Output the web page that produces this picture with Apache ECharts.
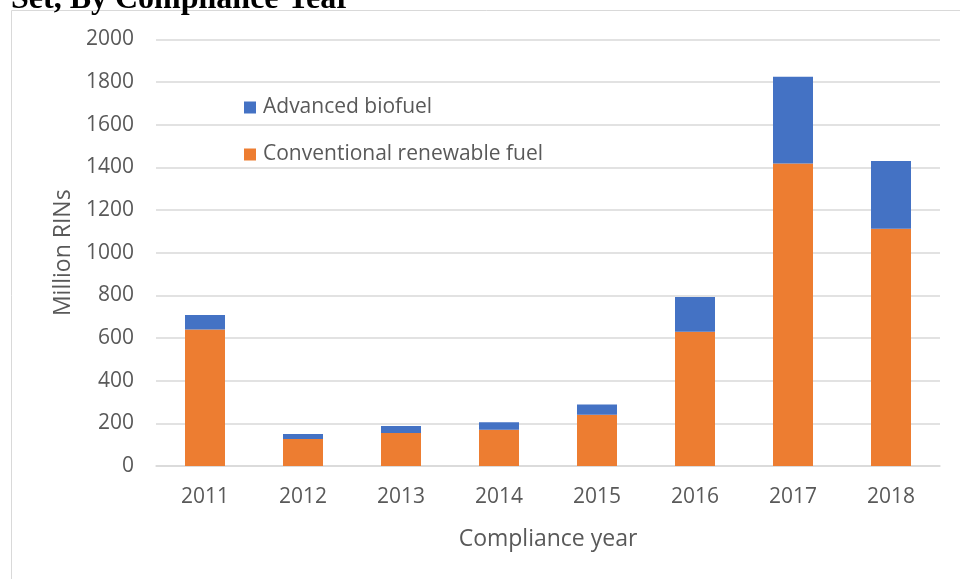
<!DOCTYPE html>
<html>
<head>
<meta charset="utf-8">
<script src="https://cdn.jsdelivr.net/npm/echarts@6/dist/echarts.min.js"></script>
<style>
html,body{margin:0;padding:0;background:#fff;}
#chart{width:960px;height:579px;}
</style>
</head>
<body>
<div id="chart"></div>
<script>
var years = ['2011','2012','2013','2014','2015','2016','2017','2018'];
var conventional = [640, 127, 155, 170, 240, 630, 1418, 1113];
var advanced = [68, 23, 33, 35, 48, 162, 407, 317];
var seriesNames = ['Conventional renewable fuel', 'Advanced biofuel'];
var legendOrder = ['Advanced biofuel', 'Conventional renewable fuel'];

var fontFam = '"Open Sans", sans-serif';
var chart = echarts.init(document.getElementById('chart'));

var option = {
    animation: false,
    color: ['#ED7D31', '#4472C4'],
    graphic: [
        {
            type: 'rect',
            shape: {x: 11.5, y: 10.5, width: 1000, height: 700},
            style: {fill: null, stroke: '#d9d9d9', lineWidth: 1}
        },
        {
            type: 'text',
            left: 11, top: -16,
            style: {
                text: 'Set, By Compliance Year',
                font: 'bold 32px "Liberation Serif", serif',
                fill: '#000'
            }
        }
    ],
    legend: {
        data: legendOrder,
        orient: 'vertical',
        left: 239,
        top: 92,
        itemWidth: 12,
        itemHeight: 12,
        itemGap: 26,
        icon: 'rect',
        textStyle: {color: '#595959', fontSize: 21, fontFamily: fontFam, lineHeight: 20, padding: [0, 0, 0, 2]}
    },
    grid: {
        left: 156,
        right: 20,
        top: 39.5,
        bottom: 113
    },
    xAxis: {
        type: 'category',
        data: years,
        name: 'Compliance year',
        nameLocation: 'middle',
        nameGap: 62,
        nameTextStyle: {color: '#595959', fontSize: 23, fontFamily: fontFam},
        axisTick: {show: false},
        axisLine: {lineStyle: {color: '#d9d9d9', width: 1.5}},
        axisLabel: {color: '#595959', fontSize: 21, fontFamily: fontFam, margin: 21}
    },
    yAxis: {
        type: 'value',
        min: 0,
        max: 2000,
        interval: 200,
        name: 'Million RINs',
        nameLocation: 'middle',
        nameGap: 81,
        nameTextStyle: {color: '#595959', fontSize: 23, fontFamily: fontFam},
        axisLabel: {
            color: '#595959', fontSize: 21, fontFamily: fontFam, margin: 22,
            formatter: function (v) { return String(v); }
        },
        splitLine: {lineStyle: {color: '#d9d9d9', width: 1.5}}
    },
    series: [
        {
            name: seriesNames[0],
            type: 'bar',
            stack: 'total',
            barWidth: 40,
            data: conventional
        },
        {
            name: seriesNames[1],
            type: 'bar',
            stack: 'total',
            barWidth: 40,
            data: advanced
        }
    ]
};
chart.setOption(option);
</script>
</body>
</html>
